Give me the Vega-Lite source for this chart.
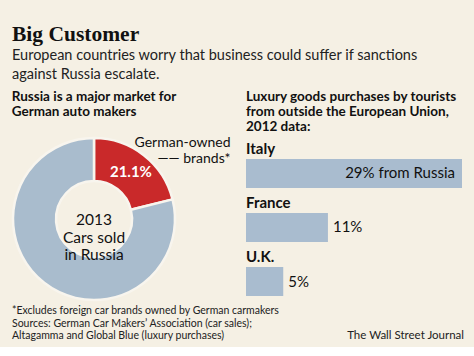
{
  "$schema": "https://vega.github.io/schema/vega-lite/v6.json",
  "background": "#f5f0e4",
  "padding": {"left": 11, "top": 23, "right": 10, "bottom": 5},
  "title": {
    "text": "Big Customer",
    "subtitle": ["European countries worry that business could suffer if sanctions", "against Russia escalate."],
    "anchor": "start",
    "frame": "group",
    "font": "Liberation Serif",
    "fontSize": 21.5,
    "fontWeight": "bold",
    "color": "#111111",
    "subtitleFont": "Lato",
    "subtitleFontSize": 14.5,
    "subtitleColor": "#222222",
    "subtitleLineHeight": 19,
    "subtitlePadding": 4,
    "offset": 8
  },
  "vconcat": [
    {
      "bounds": "flush",
      "hconcat": [
        {
          "width": 164,
          "height": 164,
          "title": {
            "text": ["Russia is a major market for", "German auto makers"],
            "anchor": "start",
            "font": "Lato",
            "fontSize": 13.5,
            "fontWeight": "bold",
            "color": "#111111",
            "lineHeight": 15,
            "offset": 17.5
          },
          "layer": [
            {
              "data": {"name": "cars"},
              "mark": {"type": "arc", "outerRadius": 81, "innerRadius": 38, "stroke": "#f8f5ee", "strokeWidth": 2.5, "strokeJoin": "bevel"},
              "encoding": {
                "theta": {"field": "share", "type": "quantitative", "stack": true, "scale": {"domain": [0, 100]}},
                "order": {"field": "segment", "sort": "ascending"},
                "color": {
                  "field": "segment", "type": "nominal", "legend": null,
                  "scale": {"domain": ["German-owned brands", "Other"], "range": ["#c9292a", "#a9bccd"]}
                }
              }
            },
            {
              "data": {"name": "cars"},
              "mark": {"type": "text", "radius": 60, "font": "Lato", "fontSize": 15, "fontWeight": "bold", "color": "#ffffff", "align": "center", "baseline": "middle"},
              "encoding": {
                "theta": {"field": "share", "type": "quantitative", "stack": true},
                "order": {"field": "segment", "sort": "ascending"},
                "detail": {"field": "segment"},
                "text": {"field": "pct"}
              }
            },
            {
              "data": {"name": "cars"},
              "mark": {"type": "text", "radius": 100, "font": "Lato", "fontSize": 14, "color": "#111111", "align": "right", "baseline": "alphabetic", "lineBreak": "|", "lineHeight": 16, "dx": 75, "dy": 7},
              "encoding": {
                "theta": {"field": "share", "type": "quantitative", "stack": true},
                "order": {"field": "segment", "sort": "ascending"},
                "detail": {"field": "segment"},
                "text": {"field": "callout"}
              }
            },
            {
              "data": {"values": [{"caption": "2013|Cars sold|in Russia"}]},
              "mark": {"type": "text", "font": "Lato", "fontSize": 15.5, "color": "#111111", "align": "center", "baseline": "middle", "lineBreak": "|", "lineHeight": 17.5, "dy": 1},
              "encoding": {
                "text": {"field": "caption"}
              }
            }
          ]
        },
        {
          "width": 216,
          "height": 159,
          "title": {
            "text": ["Luxury goods purchases by tourists", "from outside the European Union,", "2012 data:"],
            "anchor": "start",
            "font": "Lato",
            "fontSize": 13.5,
            "fontWeight": "bold",
            "color": "#111111",
            "lineHeight": 15,
            "offset": 4
          },
          "data": {
            "values": [
              {"country": "Italy", "share": 29, "label": "29% from Russia"},
              {"country": "France", "share": 11, "label": "11%"},
              {"country": "U.K.", "share": 5, "label": "5%"}
            ]
          },
          "encoding": {
            "y": {
              "field": "country", "type": "nominal", "sort": null, "axis": null,
              "scale": {"paddingInner": 0.463, "paddingOuter": 0.2037, "align": 1}
            }
          },
          "layer": [
            {
              "mark": {"type": "bar", "color": "#a9bccf"},
              "encoding": {
                "x": {"field": "share", "type": "quantitative", "axis": null, "scale": {"domain": [0, 29], "nice": false}}
              }
            },
            {
              "mark": {"type": "text", "font": "Lato", "fontSize": 15, "fontWeight": "bold", "color": "#111111", "align": "left", "baseline": "alphabetic", "dy": -5},
              "encoding": {
                "x": {"datum": 0, "type": "quantitative"},
                "y": {"field": "country", "type": "nominal", "sort": null, "bandPosition": 0},
                "text": {"field": "country"}
              }
            },
            {
              "transform": [{"filter": "datum.share > 20"}],
              "mark": {"type": "text", "font": "Lato", "fontSize": 15, "color": "#111111", "align": "right", "baseline": "middle", "dx": -7},
              "encoding": {
                "x": {"field": "share", "type": "quantitative"},
                "text": {"field": "label"}
              }
            },
            {
              "transform": [{"filter": "datum.share <= 20"}],
              "mark": {"type": "text", "font": "Lato", "fontSize": 15, "color": "#111111", "align": "left", "baseline": "middle", "dx": 5},
              "encoding": {
                "x": {"field": "share", "type": "quantitative"},
                "text": {"field": "label"}
              }
            }
          ]
        }
      ],
      "spacing": 70
    },
    {
      "width": 452,
      "height": 25,
      "layer": [
        {
          "data": {
            "values": [
              {"line": 1, "note": "*Excludes foreign car brands owned by German carmakers"},
              {"line": 2, "note": "Sources: German Car Makers’ Association (car sales);"},
              {"line": 3, "note": "Altagamma and Global Blue (luxury purchases)"}
            ]
          },
          "mark": {"type": "text", "font": "Lato", "fontSize": 10.5, "color": "#222222", "align": "left", "baseline": "alphabetic"},
          "encoding": {
            "x": {"datum": 0, "type": "quantitative", "axis": null, "scale": {"domain": [0, 1], "nice": false}},
            "y": {"field": "line", "type": "ordinal", "axis": null, "scale": {"type": "point", "padding": 0}},
            "text": {"field": "note"}
          }
        },
        {
          "data": {"values": [{"line": 3, "credit": "The Wall Street Journal"}]},
          "mark": {"type": "text", "font": "Lato", "fontSize": 11.5, "color": "#222222", "align": "right", "baseline": "alphabetic"},
          "encoding": {
            "x": {"datum": 1, "type": "quantitative"},
            "y": {"field": "line", "type": "ordinal"},
            "text": {"field": "credit"}
          }
        }
      ]
    }
  ],
  "datasets": {
    "cars": [
      {"segment": "German-owned brands", "share": 21.1, "pct": "21.1%", "callout": "German-owned|—— brands*"},
      {"segment": "Other", "share": 78.9, "pct": "", "callout": ""}
    ]
  },
  "spacing": -2,
  "config": {"view": {"stroke": null}}
}
